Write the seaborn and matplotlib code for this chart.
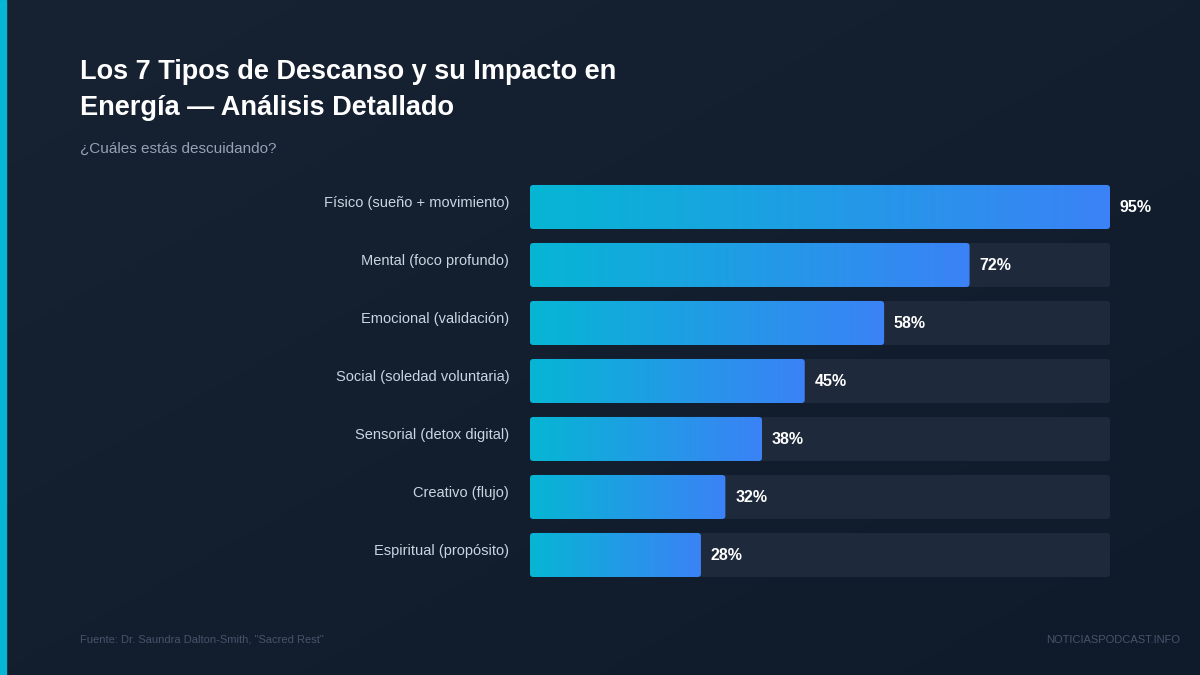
import numpy as np
import pandas as pd
import matplotlib
matplotlib.use("Agg")
import matplotlib.pyplot as plt
import seaborn as sns
from matplotlib.patches import FancyBboxPatch
from matplotlib.colors import LinearSegmentedColormap

# ── Data ──────────────────────────────────────────────────────────────────────
categories = ["Físico (sueño + movimiento)", "Mental (foco profundo)",
              "Emocional (validación)", "Social (soledad voluntaria)",
              "Sensorial (detox digital)", "Creativo (flujo)",
              "Espiritual (propósito)"]
values = [95, 72, 58, 45, 38, 32, 28]
max_val = max(values)

df = pd.DataFrame({"tipo": categories, "valor": values})

sns.set_theme(style="white")
plt.rcParams["font.family"] = ["Liberation Sans", "DejaVu Sans"]

fig = plt.figure(figsize=(12, 6.75), dpi=100)

# ── Background ────────────────────────────────────────────────────────────────
bg = fig.add_axes([0, 0, 1, 1], zorder=-10)
bg_cmap = LinearSegmentedColormap.from_list("bg", ["#172233", "#0f1a2b"])
yy, xx = np.mgrid[0:1:200j, 0:1:200j]
bg.imshow((xx + yy) / 2, cmap=bg_cmap, aspect="auto", extent=[0, 1, 0, 1])
bg.axvspan(0, 6 / 1200, color="#06b6d4")
bg.set_xlim(0, 1); bg.set_ylim(0, 1); bg.axis("off")

# ── Bars ──────────────────────────────────────────────────────────────────────
ax = fig.add_axes([530 / 1200, 1 - 584 / 675, 580 / 1200, 406 / 675])
ax.set_facecolor("none")
sns.barplot(data=df, x="valor", y="tipo", ax=ax, color="#06b6d4",
            width=0.76, orient="h")

bar_cmap = LinearSegmentedColormap.from_list("bar", ["#06b6d4", "#3b82f6"])
grad = np.linspace(0, 1, 256).reshape(1, -1)
for i, p in enumerate(list(ax.patches)):
    x0, y0, w, h = p.get_x(), p.get_y(), p.get_width(), p.get_height()
    p.remove()
    track = FancyBboxPatch((0, y0), max_val, h, boxstyle="round,pad=0,rounding_size=0.6",
                           mutation_aspect=0.09, fc="#1e293b", ec="none", zorder=1)
    ax.add_patch(track)
    clip = FancyBboxPatch((x0, y0), w, h, boxstyle="round,pad=0,rounding_size=0.6",
                          mutation_aspect=0.09, fc="none", ec="none", zorder=2)
    ax.add_patch(clip)
    im = ax.imshow(grad, cmap=bar_cmap, aspect="auto", zorder=2,
                   extent=[x0, x0 + w, y0 + h, y0])
    im.set_clip_path(clip)
    ax.text(x0 + w + 1.6, i, f"{values[i]}%", va="center", ha="left",
            color="white", fontsize=11.5, fontweight="bold")
ax.set_xlim(0, max_val)
ax.set_ylim(6.5, -0.5)

ax.set_xlabel(""); ax.set_ylabel("")
ax.set_xticks([])
ax.tick_params(axis="y", length=0, pad=15, labelsize=10.5, labelcolor="#cbd5e1")
for lbl in ax.get_yticklabels():
    lbl.set_va("baseline")
sns.despine(ax=ax, left=True, bottom=True)

# ── Texts ─────────────────────────────────────────────────────────────────────
fig.text(80 / 1200, 1 - 90 / 675, "Los 7 Tipos de Descanso y su Impacto en\nEnergía — Análisis Detallado",
         color="white", fontsize=19.5, fontweight="bold", va="center", linespacing=1.5)
fig.text(80 / 1200, 1 - 149 / 675, "¿Cuáles estás descuidando?",
         color="#94a3b8", fontsize=11, va="center")
fig.text(80 / 1200, 1 - 640 / 675, 'Fuente: Dr. Saundra Dalton-Smith, "Sacred Rest"',
         color="#475569", fontsize=8, va="center")
fig.text(1180 / 1200, 1 - 640 / 675, "NOTICIASPODCAST.INFO",
         color="#475569", fontsize=8, va="center", ha="right")

fig.savefig("out.png", dpi=100)
